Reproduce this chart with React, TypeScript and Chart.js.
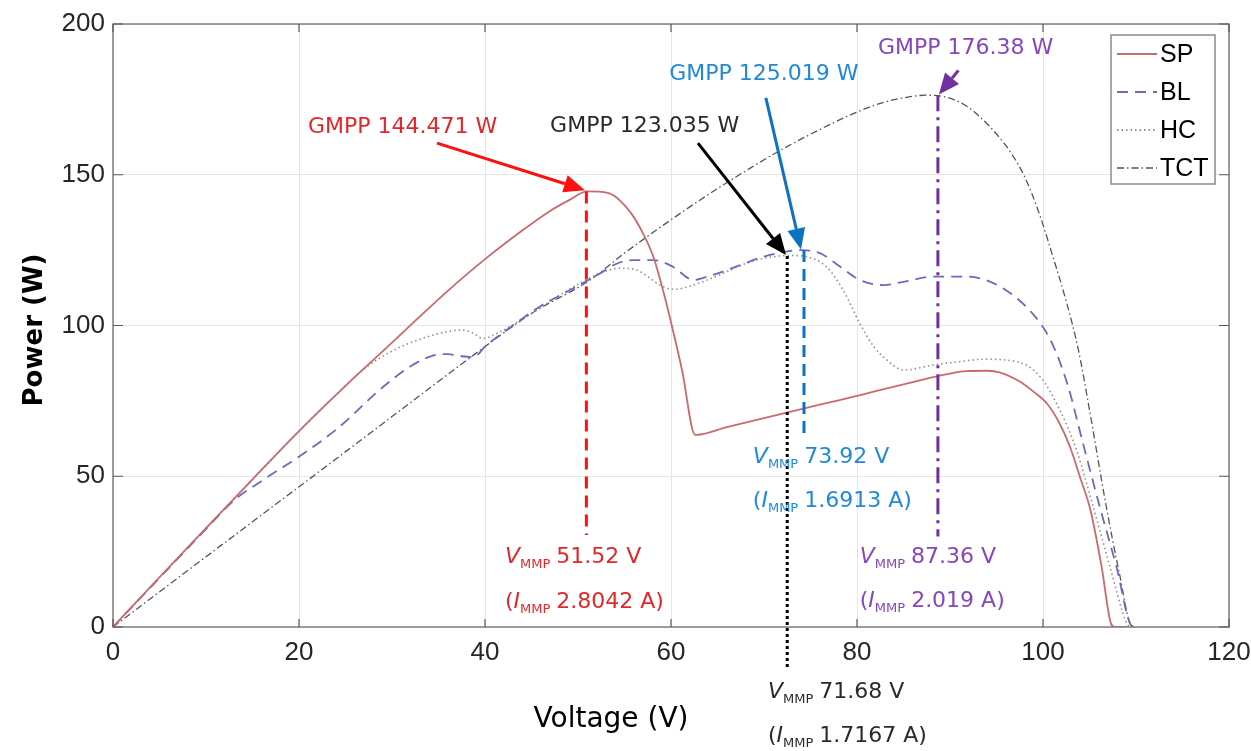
import { useEffect, useRef } from 'react';
import { Chart, registerables } from 'chart.js';

Chart.register(...registerables);

// ---------- data ----------
const seriesNames = ['SP', 'BL', 'HC', 'TCT'];

const spV = [0, 5, 10, 15, 20, 25, 30, 33, 36, 40, 44, 47, 49, 51, 53.2, 55.6, 57, 58.1, 59.2, 60.2, 61.2, 62.6, 66, 70, 74, 78, 82, 86, 88.7, 91.8, 94, 95.4, 97.5, 99, 100.4, 101.7, 102.9, 104, 105.1, 106.3, 107.3, 107.7, 109];
const spP = [0, 16.5, 32.8, 49, 65, 80, 94.3, 103, 111.5, 122, 131.5, 138, 141.5, 144.47, 144, 137.7, 130.5, 122.8, 111, 98.5, 85, 63.7, 66.3, 69.3, 72.3, 75.2, 78.2, 81.2, 83.2, 84.9, 85, 84.4, 81.4, 78, 74.2, 68, 59.8, 49.5, 38.8, 20, 1.2, 0, 0];

const blV = [0, 5, 10, 13, 16, 20, 24, 29, 32, 34.4, 36, 37.5, 38.8, 40, 43, 46, 49, 52.6, 54, 55.9, 58.1, 60.2, 62.4, 64.2, 67, 69.9, 72, 73.92, 76, 78.2, 80.3, 82.8, 85, 88.2, 91.8, 95.4, 99, 100.8, 102.6, 104.3, 106.1, 107.9, 109.5, 110];
const blP = [0, 16.3, 32.5, 42, 48.5, 56.5, 65.5, 79.5, 86.5, 90, 90.5, 89.8, 89.5, 93, 100, 106.5, 111.5, 117.7, 120.3, 121.7, 121.7, 119.5, 115.1, 116.5, 119.5, 122.8, 124.3, 125.02, 124, 119.5, 115.1, 113.4, 114.5, 116.2, 116.2, 112.9, 103.5, 95.2, 80.8, 60.9, 39.9, 20, 0.5, 0];

const hcV = [0, 5, 10, 15, 20, 25, 27.3, 30, 32, 34.4, 36, 37.5, 38.7, 39.8, 41.6, 45, 48, 50.2, 52.5, 54.5, 56.3, 57.6, 58.8, 60.3, 62.4, 65, 68, 70, 71.68, 73, 74.6, 76.7, 78.5, 80.3, 81.8, 83.2, 85, 88.2, 91, 93.6, 97.2, 99.7, 101.8, 103.6, 105.4, 107.2, 109, 109.4];
const hcP = [0, 16.5, 32.8, 49, 65, 80, 86.3, 91.5, 94.3, 96.8, 98, 98.5, 97.5, 95.7, 97.9, 104, 110, 114, 117.5, 119, 118.4, 116, 113.4, 112, 113.4, 116.5, 120.5, 122.3, 123.04, 123.2, 122.8, 119.5, 111.8, 100.7, 93, 88.6, 85.2, 86.9, 88, 88.8, 88, 83, 72, 58.7, 39.9, 20, 1.2, 0];

const tctV = [0, 10, 20, 30, 40, 45, 51.3, 55, 61, 65.3, 71.7, 76, 80, 82.5, 85, 87.36, 89.5, 91.5, 93, 95, 96.5, 98, 99.5, 101, 102.5, 103.8, 105, 106.8, 108.2, 109.5, 110];
const tctP = [0, 23.3, 46.5, 69.8, 93, 104, 115.1, 124, 137.2, 146, 158, 165, 170.8, 173.7, 175.5, 176.38, 175.8, 173.3, 169.8, 163.5, 157.5, 149.5, 138, 123.5, 108, 92, 72, 40, 18, 0.5, 0];

const xTicks = [0, 20, 40, 60, 80, 100, 120];
const yTicks = [0, 50, 100, 150, 200];

// GMPP annotations (SP, HC, BL, TCT order: red, black, blue, purple)
const gmppV = [50.9, 72.5, 74.3, 88.7];
const gmppP = [144.47, 123.04, 125.02, 176.38];
const gmppText = ['GMPP 144.471 W', 'GMPP 123.035 W', 'GMPP 125.019 W', 'GMPP 176.38 W'];
const vmmpText = ['51.52 V', '71.68 V', '73.92 V', '87.36 V'];
const immpText = ['2.8042 A)', '1.7167 A)', '1.6913 A)', '2.019 A)'];

// ---------- layout / styles ----------
const lineStyles = [
  { color: '#c96a6f', dash: [], width: 1.8 },
  { color: '#6b6bbd', dash: [11, 7], width: 1.8 },
  { color: '#8f8f8f', dash: [1.5, 3], width: 1.6 },
  { color: '#555555', dash: [7, 3, 1.5, 3], width: 1.3 },
];

const annot = [
  { line: '#ff1010', text: '#e0282c', dash: [12, 7], label: [20.97, 165.8], from: [34.84, 160.5], to: [50.75, 144.9], bottom: 30.5, vl: [42.15, 21.2, 6.3] },
  { line: '#000000', text: '#2a2a2a', dash: [3, 3], label: [47.0, 166.2], from: [62.9, 160.5], to: [72.37, 123.4], bottom: -13.6, vl: [70.43, -23.5, -38.1] },
  { line: '#0b72c4', text: '#2189d8', dash: [12, 7], label: [59.8, 183.4], from: [70.2, 175.5], to: [73.98, 125.2], bottom: 63.5, vl: [68.8, 54.4, 39.8] },
  { line: '#7030a0', text: '#8646bd', dash: [16, 6, 3, 6], label: [82.26, 192.0], from: [90.9, 184.6], to: [88.8, 176.6], bottom: 30.0, vl: [80.3, 21.2, 6.6] },
];

const FONT = '"DejaVu Sans", sans-serif';

function drawArrow(ctx: CanvasRenderingContext2D, x1: number, y1: number, x2: number, y2: number, color: string) {
  const ang = Math.atan2(y2 - y1, x2 - x1);
  const hl = 21, hw = 9;
  const bx = x2 - hl * Math.cos(ang), by = y2 - hl * Math.sin(ang);
  ctx.save();
  ctx.strokeStyle = color;
  ctx.fillStyle = color;
  ctx.lineWidth = 3;
  ctx.setLineDash([]);
  ctx.beginPath();
  ctx.moveTo(x1, y1);
  ctx.lineTo(bx, by);
  ctx.stroke();
  ctx.beginPath();
  ctx.moveTo(x2, y2);
  ctx.lineTo(bx + hw * Math.sin(ang), by - hw * Math.cos(ang));
  ctx.lineTo(bx - hw * Math.sin(ang), by + hw * Math.cos(ang));
  ctx.closePath();
  ctx.fill();
  ctx.restore();
}

function drawSubLabel(ctx: CanvasRenderingContext2D, x: number, y: number, prefix: string, letter: string, rest: string, color: string) {
  ctx.save();
  ctx.fillStyle = color;
  ctx.textAlign = 'left';
  ctx.textBaseline = 'alphabetic';
  let cx = x;
  if (prefix) {
    ctx.font = `22px ${FONT}`;
    ctx.fillText(prefix, cx, y);
    cx += ctx.measureText(prefix).width;
  }
  ctx.font = `italic 22px ${FONT}`;
  ctx.fillText(letter, cx, y);
  cx += ctx.measureText(letter).width;
  ctx.font = `13px ${FONT}`;
  ctx.fillText('MMP', cx, y + 5);
  cx += ctx.measureText('MMP').width + 6;
  ctx.font = `22px ${FONT}`;
  ctx.fillText(rest, cx, y);
  ctx.restore();
}

const framePlugin = {
  id: 'matlabFrame',
  afterDraw(chart: any) {
    const { ctx, chartArea: a, scales } = chart;
    const xs = scales.x, ys = scales.y;
    ctx.save();
    // box
    ctx.strokeStyle = '#7f7f7f';
    ctx.lineWidth = 1.5;
    ctx.setLineDash([]);
    ctx.strokeRect(a.left, a.top, a.right - a.left, a.bottom - a.top);
    // inward ticks
    ctx.strokeStyle = '#5a5a5a';
    ctx.lineWidth = 1.2;
    ctx.beginPath();
    xTicks.forEach((t) => {
      const px = xs.getPixelForValue(t);
      ctx.moveTo(px, a.bottom); ctx.lineTo(px, a.bottom - 8);
      ctx.moveTo(px, a.top); ctx.lineTo(px, a.top + 8);
    });
    yTicks.forEach((t) => {
      const py = ys.getPixelForValue(t);
      ctx.moveTo(a.left, py); ctx.lineTo(a.left + 10, py);
      ctx.moveTo(a.right, py); ctx.lineTo(a.right - 10, py);
    });
    ctx.stroke();
    ctx.restore();

    // annotations
    annot.forEach((an, i) => {
      const px = xs.getPixelForValue(gmppV[i]);
      ctx.save();
      ctx.strokeStyle = an.line;
      ctx.lineWidth = 3;
      ctx.setLineDash(an.dash);
      ctx.beginPath();
      ctx.moveTo(px, ys.getPixelForValue(gmppP[i]));
      ctx.lineTo(px, ys.getPixelForValue(an.bottom));
      ctx.stroke();
      ctx.restore();
      drawArrow(ctx,
        xs.getPixelForValue(an.from[0]), ys.getPixelForValue(an.from[1]),
        xs.getPixelForValue(an.to[0]), ys.getPixelForValue(an.to[1]), an.line);
      ctx.save();
      ctx.fillStyle = an.text;
      ctx.font = `22px ${FONT}`;
      ctx.textAlign = 'left';
      ctx.textBaseline = 'middle';
      ctx.fillText(gmppText[i], xs.getPixelForValue(an.label[0]), ys.getPixelForValue(an.label[1]));
      ctx.restore();
      const lx = xs.getPixelForValue(an.vl[0]);
      drawSubLabel(ctx, lx, ys.getPixelForValue(an.vl[1]), '', 'V', vmmpText[i], an.text);
      drawSubLabel(ctx, lx, ys.getPixelForValue(an.vl[2]), '(', 'I', immpText[i], an.text);
    });

    // axis titles
    ctx.save();
    ctx.fillStyle = '#000';
    ctx.font = `28px ${FONT}`;
    ctx.textAlign = 'center';
    ctx.textBaseline = 'middle';
    ctx.fillText('Voltage (V)', 611, 720);
    ctx.translate(35, 330);
    ctx.rotate(-Math.PI / 2);
    ctx.font = `bold 26px ${FONT}`;
    ctx.fillText('Power (W)', 0, 0);
    ctx.restore();

    // legend
    const lx0 = 1111, ly0 = 35, lw = 104, lh = 149;
    ctx.save();
    ctx.fillStyle = '#ffffff';
    ctx.fillRect(lx0, ly0, lw, lh);
    ctx.strokeStyle = '#8a8a8a';
    ctx.lineWidth = 1.5;
    ctx.strokeRect(lx0, ly0, lw, lh);
    seriesNames.forEach((name, i) => {
      const yy = 54 + i * 38;
      const st = lineStyles[i];
      ctx.strokeStyle = st.color;
      ctx.lineWidth = st.width + 0.4;
      ctx.setLineDash(st.dash);
      ctx.beginPath();
      ctx.moveTo(lx0 + 6, yy);
      ctx.lineTo(lx0 + 46, yy);
      ctx.stroke();
      ctx.setLineDash([]);
      ctx.fillStyle = '#000';
      ctx.font = '25px "Liberation Sans", Arial, sans-serif';
      ctx.textAlign = 'left';
      ctx.textBaseline = 'middle';
      ctx.fillText(name, lx0 + 49, yy + 1);
    });
    ctx.restore();
  },
};

const allV = [spV, blV, hcV, tctV];
const allP = [spP, blP, hcP, tctP];

export default function App() {
  const ref = useRef<HTMLCanvasElement | null>(null);
  useEffect(() => {
    if (!ref.current) return;
    const datasets = seriesNames.map((name, i) => ({
      label: name,
      data: allV[i].map((v, k) => ({ x: v, y: allP[i][k] })),
      borderColor: lineStyles[i].color,
      borderWidth: lineStyles[i].width,
      borderDash: lineStyles[i].dash,
      pointRadius: 0,
      fill: false,
      cubicInterpolationMode: 'monotone' as const,
    }));
    const tickFont = { family: '"Liberation Sans", Arial, sans-serif', size: 26 };
    const chart = new Chart(ref.current, {
      type: 'line',
      data: { datasets },
      options: {
        animation: false,
        responsive: false,
        devicePixelRatio: 1,
        layout: { padding: { top: 24, right: 22, left: 0, bottom: 0 } },
        plugins: { legend: { display: false }, tooltip: { enabled: false } },
        scales: {
          x: {
            type: 'linear',
            min: 0,
            max: 120,
            ticks: { stepSize: 20, font: tickFont, color: '#262626', padding: 10, maxRotation: 0, autoSkip: false },
            grid: { color: '#e6e6e6', lineWidth: 1, drawTicks: false },
            border: { display: false },
            afterFit: (s: any) => { s.height = 124; s.paddingLeft = 0; s.paddingRight = 0; },
          },
          y: {
            type: 'linear',
            min: 0,
            max: 200,
            ticks: { stepSize: 50, font: tickFont, color: '#262626', padding: 8 },
            grid: { color: '#e6e6e6', lineWidth: 1, drawTicks: false },
            border: { display: false },
            afterFit: (s: any) => { s.width = 113; s.paddingTop = 0; s.paddingBottom = 0; },
          },
        },
      },
      plugins: [framePlugin],
    });
    return () => chart.destroy();
  }, []);
  return (
    <div style={{ position: 'fixed', left: 0, top: 0, width: 1251, height: 751, background: '#fff' }}>
      <canvas ref={ref} width={1251} height={751} style={{ display: 'block', width: 1251, height: 751 }} />
    </div>
  );
}
